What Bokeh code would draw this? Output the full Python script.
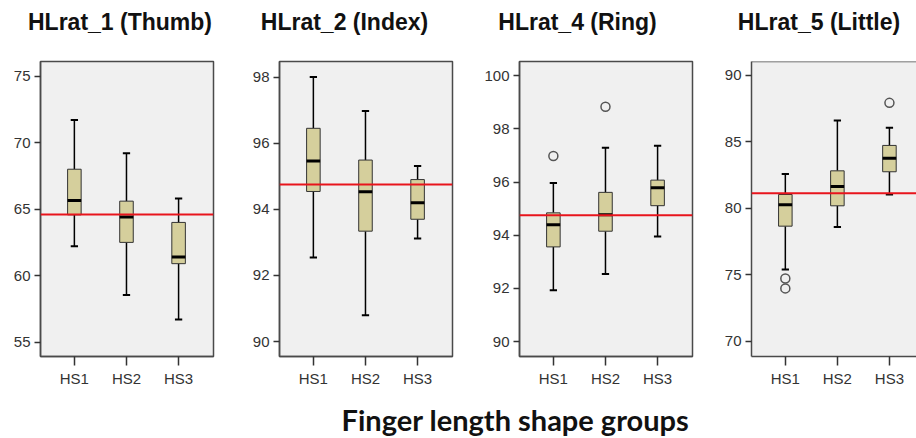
from bokeh.plotting import figure
from bokeh.layouts import row, column
from bokeh.models import Range1d, FixedTicker, Span, ColumnDataSource
from bokeh.transform import dodge
from bokeh.embed import file_html
from bokeh.resources import INLINE
from bokeh.core.properties import value

# ---------------- data ----------------
groups = ["HS1", "HS2", "HS3"]
titles = ["HLrat_1 (Thumb)", "HLrat_2 (Index)", "HLrat_4 (Ring)", "HLrat_5 (Little)"]
x_axis_label = "Finger length shape groups"

thumb_low = [62.2, 58.55, 56.7]
thumb_q1 = [64.57, 62.5, 60.9]
thumb_med = [65.65, 64.4, 61.4]
thumb_q3 = [68.0, 65.6, 64.0]
thumb_high = [71.7, 69.2, 65.8]
thumb_out_group = []
thumb_out_val = []
thumb_ref = 64.6
thumb_ticks = [55, 60, 65, 70, 75]

index_low = [92.54, 90.8, 93.12]
index_q1 = [94.54, 93.34, 93.7]
index_med = [95.46, 94.53, 94.2]
index_q3 = [96.45, 95.49, 94.9]
index_high = [98.0, 96.97, 95.31]
index_out_group = []
index_out_val = []
index_ref = 94.75
index_ticks = [90, 92, 94, 96, 98]

ring_low = [91.93, 92.54, 93.95]
ring_q1 = [93.56, 94.15, 95.11]
ring_med = [94.39, 94.77, 95.78]
ring_q3 = [94.84, 95.61, 96.07]
ring_high = [95.96, 97.29, 97.36]
ring_out_group = ["HS1", "HS2"]
ring_out_val = [96.98, 98.83]
ring_ref = 94.75
ring_ticks = [90, 92, 94, 96, 98, 100]

little_low = [75.41, 78.6, 81.05]
little_q1 = [78.67, 80.2, 82.76]
little_med = [80.28, 81.65, 83.78]
little_q3 = [81.05, 82.83, 84.74]
little_high = [82.6, 86.62, 86.07]
little_out_group = ["HS1", "HS1", "HS3"]
little_out_val = [74.74, 73.99, 87.94]
little_ref = 81.15
little_ticks = [70, 75, 80, 85, 90]

panels = [
    (thumb_low, thumb_q1, thumb_med, thumb_q3, thumb_high, thumb_out_group, thumb_out_val, thumb_ref, thumb_ticks),
    (index_low, index_q1, index_med, index_q3, index_high, index_out_group, index_out_val, index_ref, index_ticks),
    (ring_low, ring_q1, ring_med, ring_q3, ring_high, ring_out_group, ring_out_val, ring_ref, ring_ticks),
    (little_low, little_q1, little_med, little_q3, little_high, little_out_group, little_out_val, little_ref, little_ticks),
]

# ---------------- layout / style ----------------
# (figure width, border left, border right, x end, y start, y end)
layout = [
    (230, 40, 17, 3.67, 53.92, 76.1),
    (230, 49, 8, 3.67, 89.55, 98.47),
    (234, 59, 2, 3.67, 89.44, 100.53),
    (222, 57, 0, 3.52, 68.87, 91.05),
]
TOP_H = 59
PANEL_H = 333
BOT_H = 46
FRAME_H = 295
title_centers = [119.5, 344, 577, 818.5]
BOX_FILL = "#d5cf9c"
FRAME_FILL = "#f0f0f0"
EDGE = "#4a4a4a"
BOX_W = 0.26
CAP_W = 0.14


def strip(height):
    s = figure(width=916, height=height, output_backend="svg", toolbar_location=None,
               x_range=Range1d(0, 916), y_range=Range1d(0, height),
               min_border=0, min_border_left=0, min_border_right=0,
               min_border_top=0, min_border_bottom=0)
    s.axis.visible = False
    s.grid.visible = False
    s.outline_line_color = None
    s.background_fill_color = "white"
    s.border_fill_color = "white"
    return s


# strip with the panel titles
top = strip(TOP_H)
top.text(x=title_centers, y=[TOP_H - 21.5] * 4, text=titles, text_font=value("Liberation Sans"),
         text_font_style="bold", text_font_size="23px", text_align="center",
         text_baseline="alphabetic", text_color="#111111")

figs = []
for i, (data, lay) in enumerate(zip(panels, layout)):
    low, q1, med, q3, high, og, ov, ref, ticks = data
    fw, bl, br, xend, ys, ye = lay
    xs = [groups.index(g) + 1 for g in groups]
    src = ColumnDataSource(dict(x=xs, low=low, q1=q1, med=med, q3=q3, high=high))

    p = figure(width=fw, height=PANEL_H, output_backend="svg", toolbar_location=None,
               x_range=Range1d(0.35, xend), y_range=Range1d(ys, ye),
               min_border_left=bl, min_border_right=br,
               min_border_top=2, min_border_bottom=PANEL_H - 2 - FRAME_H)
    p.background_fill_color = FRAME_FILL
    p.border_fill_color = "white"
    p.grid.visible = False
    if i < 3:
        p.outline_line_color = EDGE
        p.outline_line_width = 1.5
    else:
        p.outline_line_color = None
        p.add_layout(Span(location=ye, dimension="width", line_color=EDGE, line_width=1.5))

    # whiskers
    p.segment(x0="x", x1="x", y0="low", y1="q1", source=src, line_color="black", line_width=1.5)
    p.segment(x0="x", x1="x", y0="q3", y1="high", source=src, line_color="black", line_width=1.5)
    p.segment(x0=dodge("x", -CAP_W / 2), x1=dodge("x", CAP_W / 2), y0="low", y1="low",
              source=src, line_color="black", line_width=2)
    p.segment(x0=dodge("x", -CAP_W / 2), x1=dodge("x", CAP_W / 2), y0="high", y1="high",
              source=src, line_color="black", line_width=2)
    # boxes
    p.vbar(x="x", width=BOX_W, bottom="q1", top="q3", source=src,
           fill_color=BOX_FILL, line_color="#333333", line_width=1)
    # median
    p.segment(x0=dodge("x", -BOX_W / 2), x1=dodge("x", BOX_W / 2), y0="med", y1="med",
              source=src, line_color="black", line_width=3)
    # outliers
    if ov:
        ox = [groups.index(g) + 1 for g in og]
        p.scatter(x=ox, y=ov, marker="circle", size=9, fill_color=None,
                  line_color="#555555", line_width=1.5)
    # reference (overall mean) line
    p.add_layout(Span(location=ref, dimension="width", line_color="#e8141c", line_width=2))

    p.xaxis.ticker = FixedTicker(ticks=xs)
    p.xaxis.major_label_overrides = {x: g for x, g in zip(xs, groups)}
    p.yaxis.ticker = FixedTicker(ticks=ticks)
    for ax, tout in ((p.xaxis, 9), (p.yaxis, 6)):
        ax.axis_line_color = EDGE
        ax.axis_line_width = 1.5
        ax.major_tick_line_color = "#333333"
        ax.major_tick_line_width = 1.5
        ax.major_tick_out = tout
        ax.major_tick_in = 0
        ax.minor_tick_line_color = None
        ax.major_label_text_font = "Liberation Sans"
        ax.major_label_text_font_size = "15px"
        ax.major_label_text_color = "#333333"
    p.xaxis.major_label_standoff = 4
    p.yaxis.major_label_standoff = 4
    figs.append(p)

# bottom strip with the common x-axis label
bot = strip(BOT_H)
bot.text(x=[515], y=[BOT_H - 27], text=[x_axis_label], text_font=value("Lato"), text_font_style="bold",
         text_font_size="29px", text_align="center", text_baseline="alphabetic", text_color="#111111")

page = column(top, row(*figs, spacing=0), bot, spacing=0)
open("out.html", "w").write(file_html(page, INLINE))
